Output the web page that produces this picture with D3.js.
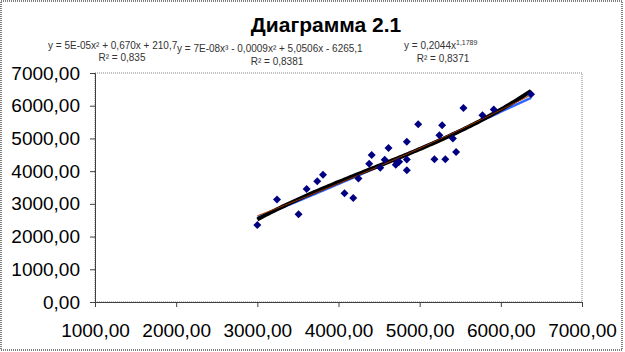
<!DOCTYPE html>
<html>
<head>
<meta charset="utf-8">
<script src="https://cdn.jsdelivr.net/npm/d3@7"></script>
<style>
html,body{margin:0;padding:0;background:#fff;}
svg{display:block;font-family:Arial,"Liberation Sans",sans-serif;}
</style>
</head>
<body>
<svg id="chart" width="625" height="352"></svg>
<script>
// ---- data ----
const xValues = [3000,3242,3508,3607,3738,3809,4074,4182,4246,4378,4409,4514,4569,4616,4705,4723,4748,4842,4842,4842,4982,5182,5243,5277,5316,5409,5449,5539,5773,5913,6372];
const yValues = [2350,3134,2683,3454,3689,3890,3326,3180,3774,4223,4491,4104,4345,4704,4192,4262,4287,4896,4354,4024,5430,4360,5101,5405,4360,5000,4582,5933,5710,5884,6351];
const xTicks = [1000,2000,3000,4000,5000,6000,7000];
const yTicks = [0,1000,2000,3000,4000,5000,6000,7000];
const titleText = "Диаграмма 2.1";
const eqPoly2 = ["y = 5E-05x² + 0,670x + 210,7", "R² = 0,835"];
const eqPoly3 = ["y = 7E-08x³ - 0,0009x² + 5,0506x - 6265,1", "R² = 0,8381"];
const eqPower = ["y = 0,2044x", "1,1789", "R² = 0,8371"];

const fmt = v => d3.format(".2f")(v).replace(".", ",");

const svg = d3.select("#chart");
const W = 625, H = 352;
const plot = {left:95, right:582, top:73, bottom:302};

const x = d3.scaleLinear().domain([1000,7000]).range([plot.left, plot.right]);
const y = d3.scaleLinear().domain([0,7000]).range([plot.bottom, plot.top]);

// outer chart border
svg.append("rect").attr("x",1).attr("y",1).attr("width",W-4).attr("height",H-3)
  .attr("fill","none").attr("stroke","#000").attr("stroke-width",1).attr("stroke-dasharray","1,1");

// plot area border
svg.append("rect").attr("x",plot.left).attr("y",plot.top)
  .attr("width",plot.right-plot.left).attr("height",plot.bottom-plot.top)
  .attr("fill","none").attr("stroke","#808080").attr("stroke-width",1).attr("stroke-dasharray","1,1");

// axes
const yAxis = svg.append("g").attr("transform",`translate(${plot.left},0)`)
  .call(d3.axisLeft(y).tickValues(yTicks).tickFormat(fmt).tickSize(5).tickPadding(10));
const xAxis = svg.append("g").attr("transform",`translate(0,${plot.bottom})`)
  .call(d3.axisBottom(x).tickValues(xTicks).tickFormat(fmt).tickSize(5).tickPadding(17));
[yAxis,xAxis].forEach(g=>{
  g.select(".domain").attr("stroke","#404040");
  g.selectAll(".tick line").attr("stroke","#404040");
  g.selectAll("text").attr("fill","#000").style("font-size","19px").style("font-family","Arial,'Liberation Sans',sans-serif");
});

// ---- trendlines fitted from data (least squares) ----
function solve(A,b){
  const n=b.length; A=A.map((r,i)=>[...r,b[i]]);
  for(let i=0;i<n;i++){
    let m=i; for(let k=i+1;k<n;k++) if(Math.abs(A[k][i])>Math.abs(A[m][i])) m=k;
    [A[i],A[m]]=[A[m],A[i]];
    for(let k=i+1;k<n;k++){const f=A[k][i]/A[i][i]; for(let j=i;j<=n;j++) A[k][j]-=f*A[i][j];}
  }
  const s=new Array(n).fill(0);
  for(let i=n-1;i>=0;i--){let t=A[i][n]; for(let j=i+1;j<n;j++) t-=A[i][j]*s[j]; s[i]=t/A[i][i];}
  return s;
}
function polyFit(xs,ys,deg){
  const u=xs.map(v=>v/1000);
  const A=[],b=[];
  for(let i=0;i<=deg;i++){A.push([]);for(let j=0;j<=deg;j++)A[i].push(d3.sum(u,v=>Math.pow(v,i+j)));b.push(d3.sum(u,(v,k)=>Math.pow(v,i)*ys[k]));}
  const c=solve(A,b);
  return X=>c.reduce((s,ci,i)=>s+ci*Math.pow(X/1000,i),0);
}
function powerFit(xs,ys){
  const lx=xs.map(Math.log), ly=ys.map(Math.log);
  const mx=d3.mean(lx), my=d3.mean(ly);
  const bb=d3.sum(lx,(v,i)=>(v-mx)*(ly[i]-my))/d3.sum(lx,v=>(v-mx)*(v-mx));
  const aa=Math.exp(my-bb*mx);
  return X=>aa*Math.pow(X,bb);
}
const f2=polyFit(xValues,yValues,2), f3=polyFit(xValues,yValues,3), fp=powerFit(xValues,yValues);
const xs=d3.range(0,101).map(i=>d3.min(xValues)+(d3.max(xValues)-d3.min(xValues))*i/100);
const line=f=>d3.line().x(d=>x(d)).y(d=>y(f(d)))(xs);

svg.append("path").attr("d",line(fp)).attr("fill","none").attr("stroke","#3366FF").attr("stroke-width",2.5);
svg.append("path").attr("d",line(f3)).attr("fill","none").attr("stroke","#000").attr("stroke-width",4);
svg.append("path").attr("d",line(f2)).attr("fill","none").attr("stroke","#993300").attr("stroke-width",1);

// points
svg.append("g").selectAll("path").data(xValues).join("path")
  .attr("d",d3.symbol(d3.symbolSquare,32))
  .attr("transform",(d,i)=>`translate(${x(d)},${y(yValues[i])}) rotate(45)`)
  .attr("fill","#000080");

// title
svg.append("text").attr("x",326).attr("y",32).attr("text-anchor","middle")
  .style("font-size","21px").style("font-weight","bold").attr("fill","#000").text(titleText);

// equations
const eq = svg.append("g").style("font-size","10px").attr("fill","#333");
eq.append("text").attr("x",48).attr("y",49).text(eqPoly2[0]);
eq.append("text").attr("x",122).attr("y",61).attr("text-anchor","middle").text(eqPoly2[1]);
eq.append("text").attr("x",177).attr("y",52).text(eqPoly3[0]);
eq.append("text").attr("x",277).attr("y",65).attr("text-anchor","middle").text(eqPoly3[1]);
const t3 = eq.append("text").attr("x",404).attr("y",49);
t3.append("tspan").text(eqPower[0]);
t3.append("tspan").attr("dy",-4).style("font-size","7px").text(eqPower[1]);
eq.append("text").attr("x",443).attr("y",62).attr("text-anchor","middle").text(eqPower[2]);
</script>
</body>
</html>
